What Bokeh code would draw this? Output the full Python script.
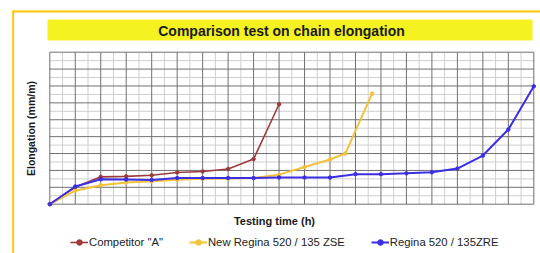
from math import pi
from bokeh.plotting import figure
from bokeh.models import Label, Legend, LegendItem, Range1d
from bokeh.embed import file_html
from bokeh.resources import INLINE

# ---- data (grid units: x = testing time steps, y = elongation) ----
comp_x = [0, 1, 2, 3, 4, 5, 6, 7, 8, 9]
comp_y = [0, 1.0, 1.62, 1.65, 1.71, 1.88, 1.94, 2.08, 2.67, 5.92]

zse_x = [0, 1, 2, 3, 4, 5, 6, 7, 8, 9, 10, 11, 11.6, 12.65]
zse_y = [0, 0.8, 1.12, 1.28, 1.36, 1.45, 1.5, 1.52, 1.55, 1.75, 2.2, 2.65, 3.0, 6.55]

zre_x = list(range(20))
zre_y = [0, 1.05, 1.48, 1.46, 1.44, 1.55, 1.55, 1.55, 1.55, 1.58, 1.58, 1.58,
         1.78, 1.78, 1.83, 1.89, 2.11, 2.88, 4.42, 6.98]

x_ticks = list(range(20))
x_minor = [i + 0.5 for i in range(19)]
y_ticks = list(range(10))
y_minor = [i + 0.5 for i in range(9)]

series_names = ['Competitor "A"', "New Regina 520 / 135 ZSE", "Regina 520 / 135ZRE"]
colors = ["#9b3b3e", "#f2c23a", "#3b2ee3"]
title_text = "Comparison test on chain elongation"
x_label = "Testing time (h)"
y_label = "Elongation (mm/m)"

FONT = "Liberation Sans"
W, H = 540, 253
# chart area in canvas pixels
FL, FR, FT, FB = 49.3, 533.3, 51.7, 203.7
XMAX, YMAX = x_ticks[-1], y_ticks[-1]


def dx(px):
    return (px - FL) * XMAX / (FR - FL)


def dy(py):
    return (FB - py) * YMAX / (FB - FT)


p = figure(width=W, height=H, output_backend="svg", toolbar_location=None,
           x_range=Range1d(dx(0), dx(W)), y_range=Range1d(dy(H), dy(0)),
           min_border=0)
p.axis.visible = False
p.grid.visible = False
p.outline_line_color = None

# grid lines limited to chart area
p.segment(x0=x_minor, y0=[0] * len(x_minor), x1=x_minor, y1=[YMAX] * len(x_minor),
          line_color="#cfcfcf", line_width=1)
p.segment(x0=[0] * len(y_minor), y0=y_minor, x1=[XMAX] * len(y_minor), y1=y_minor,
          line_color="#cfcfcf", line_width=1)
p.segment(x0=x_ticks, y0=[0] * len(x_ticks), x1=x_ticks, y1=[YMAX] * len(x_ticks),
          line_color="#707070", line_width=1)
p.segment(x0=[0] * len(y_ticks), y0=y_ticks, x1=[XMAX] * len(y_ticks), y1=y_ticks,
          line_color="#707070", line_width=1)

# gold frame
p.quad(left=[dx(11.7), dx(11.7)], right=[dx(13.6), dx(W)], top=[dy(10), dy(10)],
       bottom=[dy(H), dy(11.9)], fill_color="#ffc800", line_color=None)
# title box
p.quad(left=[dx(47)], right=[dx(532)], top=[dy(19)], bottom=[dy(40)],
       fill_color="#f4f220", line_color=None)

p.add_layout(Label(x=dx(281), y=dy(30), text=title_text,
                   text_align="center", text_baseline="middle", text_font=FONT,
                   text_font_size="14px", text_font_style="bold", text_color="#1a1a1a"))
p.add_layout(Label(x=dx(274), y=dy(220), text=x_label,
                   text_align="center", text_baseline="middle", text_font=FONT,
                   text_font_size="11px", text_font_style="bold", text_color="#1a1a1a"))
p.add_layout(Label(x=dx(30.5), y=dy(128), text=y_label,
                   angle=pi / 2, text_align="center", text_baseline="middle", text_font=FONT,
                   text_font_size="10.5px", text_font_style="bold", text_color="#1a1a1a"))

items = []
for (xs, ys, name, c, lw) in [(comp_x, comp_y, series_names[0], colors[0], 1.6),
                              (zse_x, zse_y, series_names[1], colors[1], 2),
                              (zre_x, zre_y, series_names[2], colors[2], 2)]:
    r1 = p.line(xs, ys, line_color=c, line_width=lw)
    r2 = p.scatter(xs, ys, size=3.5, color=c)
    items.append(LegendItem(label=name, renderers=[r1, r2]))

legend = Legend(items=items, orientation="horizontal", location=(70, 4),
                padding=0, margin=0, spacing=26, glyph_width=18, glyph_height=14,
                label_height=14, label_standoff=1, label_text_font=FONT,
                label_text_font_size="11.3px", label_text_color="#222222",
                border_line_color=None, background_fill_alpha=0)
p.add_layout(legend, "center")

open("out.html", "w").write(file_html(p, INLINE))
